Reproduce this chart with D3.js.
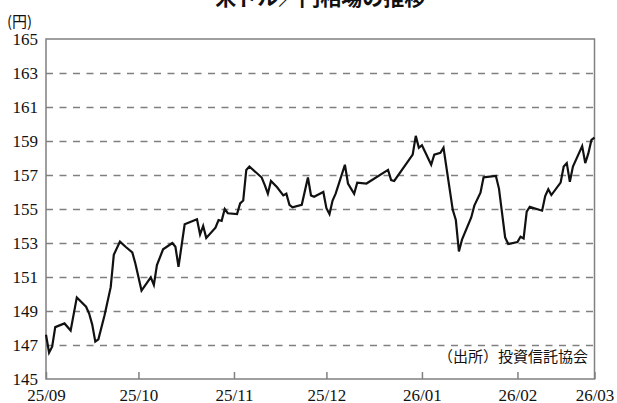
<!DOCTYPE html>
<html lang="ja">
<head>
<meta charset="utf-8">
<script src="https://cdn.jsdelivr.net/npm/d3@7"></script>
<style>
  body { margin: 0; background: #fff; }
  svg { display: block; }
</style>
</head>
<body>
<svg id="chart"></svg>
<script>
// 米ドル／円 (日次の折れ線, 図から読み取った値)
const dates = [
  "2025-09-01","2025-09-02","2025-09-03","2025-09-04","2025-09-07","2025-09-09","2025-09-11",
  "2025-09-14","2025-09-15","2025-09-16","2025-09-17","2025-09-18","2025-09-20","2025-09-22",
  "2025-09-23","2025-09-25","2025-09-27","2025-09-29","2025-09-30","2025-10-02","2025-10-05",
  "2025-10-06","2025-10-07","2025-10-09","2025-10-12","2025-10-13","2025-10-14","2025-10-16",
  "2025-10-20","2025-10-21","2025-10-22","2025-10-23","2025-10-26","2025-10-27","2025-10-28",
  "2025-10-29","2025-10-30","2025-11-02","2025-11-03","2025-11-04","2025-11-05","2025-11-06",
  "2025-11-10","2025-11-11","2025-11-12","2025-11-13","2025-11-15","2025-11-17","2025-11-18",
  "2025-11-19","2025-11-20","2025-11-23","2025-11-25","2025-11-26","2025-11-27","2025-11-30",
  "2025-12-01","2025-12-02","2025-12-03","2025-12-04","2025-12-07","2025-12-08","2025-12-10",
  "2025-12-11","2025-12-14","2025-12-21","2025-12-22","2025-12-23","2025-12-29","2025-12-30",
  "2025-12-31","2026-01-01","2026-01-04","2026-01-05","2026-01-07","2026-01-08","2026-01-11",
  "2026-01-12","2026-01-13","2026-01-14","2026-01-17","2026-01-18","2026-01-20","2026-01-21",
  "2026-01-25","2026-01-26","2026-01-28","2026-01-29","2026-02-01","2026-02-02","2026-02-03",
  "2026-02-04","2026-02-05","2026-02-09","2026-02-10","2026-02-11","2026-02-12","2026-02-15",
  "2026-02-16","2026-02-17","2026-02-18","2026-02-19","2026-02-22","2026-02-23","2026-02-24",
  "2026-02-25","2026-02-26"
];
const rates = [
  147.6, 146.55, 146.9, 148.05, 148.27, 147.85, 149.8,
  149.25, 148.85, 148.2, 147.2, 147.33, 148.75, 150.4,
  152.3, 153.08, 152.75, 152.45, 151.8, 150.2, 150.98,
  150.53, 151.7, 152.63, 153.0, 152.78, 151.6, 154.1,
  154.4, 153.5, 154.0, 153.3, 153.9, 154.35, 154.3,
  155.0, 154.75, 154.7, 155.33, 155.5, 157.3, 157.5,
  156.85, 156.4, 155.9, 156.65, 156.28, 155.8, 155.9,
  155.25, 155.1, 155.25, 156.85, 155.8, 155.72, 156.0,
  155.05, 154.7, 155.5, 155.9, 157.6, 156.5, 155.9,
  156.55, 156.5, 157.3, 156.7, 156.65, 158.2, 159.3,
  158.6, 158.75, 157.6, 158.2, 158.3, 158.6, 154.95,
  154.35, 152.5, 153.2, 154.5, 155.2, 155.96, 156.86,
  156.94, 156.2, 153.33, 152.94, 153.06, 153.37, 153.27,
  154.84, 155.13, 154.9, 155.76, 156.16, 155.82, 156.55,
  157.5, 157.7, 156.6, 157.5, 158.7, 157.7, 158.27,
  159.06, 159.2
];
const xTickDates = ["2025-09-01","2025-10-01","2025-11-01","2025-12-01","2026-01-01","2026-02-01","2026-02-26"];
const xTickLabels = ["25/09","25/10","25/11","25/12","26/01","26/02","26/03"];
const yTicks = [145, 147, 149, 151, 153, 155, 157, 159, 161, 163, 165];

const title = "米ドル／円相場の推移";
const unit = "(円)";
const source = "（出所）投資信託協会";

const wSvg = 617;
const hSvg = 403;
const margin = { top: 39, right: 22.5, bottom: 24, left: 46 };

const parse = d3.timeParse("%Y-%m-%d");
const data = dates.map((d, i) => ({ date: parse(d), rate: rates[i] }));
const tickDates = xTickDates.map(parse);

const numFont = "'Liberation Serif', 'DejaVu Serif', serif";
const jpFont = "'Noto Sans CJK JP', sans-serif";
const gray = "#808080";

const svg = d3.select("#chart")
  .attr("width", wSvg)
  .attr("height", hSvg);

const x = d3.scaleTime()
  .domain([tickDates[0], tickDates[tickDates.length - 1]])
  .range([margin.left, wSvg - margin.right]);

const y = d3.scaleLinear()
  .domain([d3.min(yTicks), d3.max(yTicks)])
  .range([hSvg - margin.bottom, margin.top]);

// 破線のグリッド
svg.append("g")
  .attr("transform", `translate(${margin.left}, 0)`)
  .call(d3.axisLeft(y)
    .tickValues(yTicks.slice(1, -1))
    .tickSize(-(wSvg - margin.left - margin.right))
    .tickFormat(""))
  .call(g => g.select(".domain").remove())
  .call(g => g.selectAll("line")
    .attr("stroke", gray)
    .attr("stroke-width", 1.5)
    .attr("stroke-dasharray", "7,6.5"));

// 枠
svg.append("rect")
  .attr("x", margin.left)
  .attr("y", margin.top)
  .attr("width", wSvg - margin.left - margin.right)
  .attr("height", hSvg - margin.top - margin.bottom)
  .attr("fill", "none")
  .attr("stroke", gray)
  .attr("stroke-width", 1.5);

// 縦軸
svg.append("g")
  .attr("transform", `translate(${margin.left}, 0)`)
  .call(d3.axisLeft(y).tickValues(yTicks).tickSize(0).tickPadding(8))
  .call(g => g.select(".domain").remove())
  .call(g => g.selectAll("text")
    .attr("font-family", numFont)
    .attr("font-size", 17)
    .attr("fill", "#111"));

// 横軸
svg.append("g")
  .attr("transform", `translate(0, ${hSvg - margin.bottom})`)
  .call(d3.axisBottom(x)
    .tickValues(tickDates)
    .tickFormat((d, i) => xTickLabels[i])
    .tickSize(-7)
    .tickPadding(10))
  .call(g => g.select(".domain").remove())
  .call(g => g.selectAll("line")
    .attr("stroke", gray)
    .attr("stroke-width", 1.5))
  .call(g => g.selectAll("text")
    .attr("font-family", numFont)
    .attr("font-size", 17)
    .attr("fill", "#111"));

// 折れ線
const line = d3.line()
  .x(d => x(d.date))
  .y(d => y(d.rate));

svg.append("path")
  .datum(data)
  .attr("d", line)
  .attr("fill", "none")
  .attr("stroke", "#111")
  .attr("stroke-width", 2.2)
  .attr("stroke-linejoin", "miter");

// 文字
svg.append("text")
  .attr("x", (margin.left + wSvg - margin.right) / 2)
  .attr("y", 5)
  .attr("text-anchor", "middle")
  .attr("font-family", jpFont)
  .attr("font-weight", "bold")
  .attr("font-size", 21)
  .attr("fill", "#111")
  .text(title);

svg.append("text")
  .attr("x", 7)
  .attr("y", 27)
  .attr("font-family", jpFont)
  .attr("font-size", 15)
  .attr("fill", "#111")
  .text(unit);

svg.append("text")
  .attr("x", 588)
  .attr("y", 362)
  .attr("text-anchor", "end")
  .attr("font-family", jpFont)
  .attr("font-size", 15)
  .attr("fill", "#111")
  .text(source);
</script>
</body>
</html>
